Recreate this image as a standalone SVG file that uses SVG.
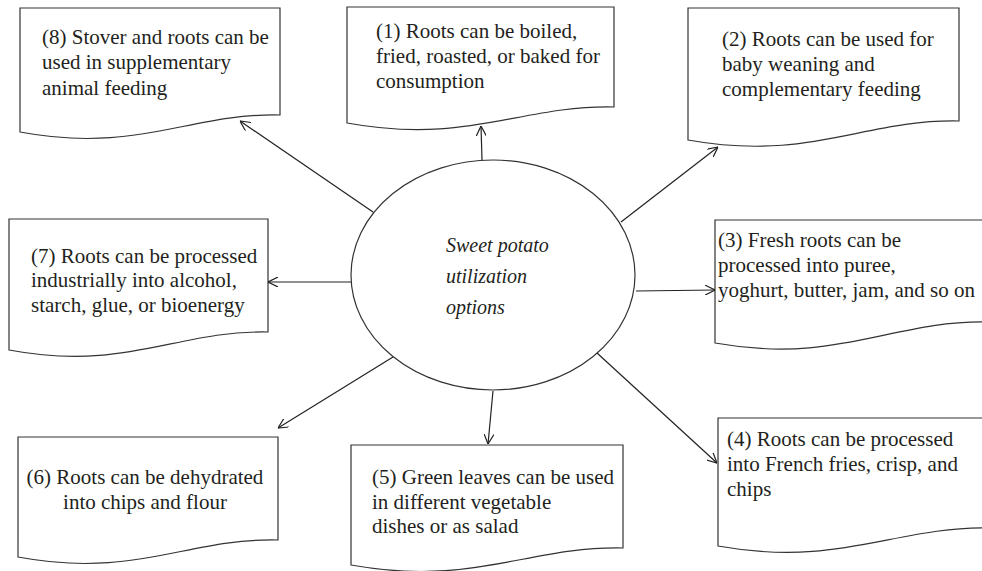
<svg xmlns="http://www.w3.org/2000/svg" width="982" height="571" viewBox="0 0 982 571">
<style>
.box{fill:#fff;stroke:#333;stroke-width:1.2}
.t{font-family:"Liberation Serif","Times New Roman",serif;font-size:21px;fill:#231f20}
.c{text-anchor:middle}
.it{font-family:"Liberation Serif","Times New Roman",serif;font-size:20px;font-style:italic;fill:#231f20}
.conn line{stroke:#222;stroke-width:1.2;marker-end:url(#arr)}
</style>
<defs>
<marker id="arr" viewBox="0 0 10 10" refX="10" refY="5" markerWidth="10" markerHeight="10" markerUnits="userSpaceOnUse" orient="auto">
<path d="M0,0 L10,5 L0,10" fill="none" stroke="#222" stroke-width="1.2"/>
</marker>
</defs>
<rect width="982" height="571" fill="#fff"/>
<g id="center">
<ellipse cx="493" cy="275" rx="142" ry="115" fill="#fff" stroke="#333" stroke-width="1.2"/>
<text class="it" x="446" y="252">Sweet potato</text>
<text class="it" x="446" y="283">utilization</text>
<text class="it" x="446" y="314">options</text>
</g>
<g id="n8">
<path class="box" d="M20,8 H280 V115 C189,113 137,154 20,132 Z"/>
<text class="t" x="42" y="44">(8) Stover and roots can be</text>
<text class="t" x="42" y="69">used in supplementary</text>
<text class="t" x="42" y="95">animal feeding</text>
</g>
<g id="n1">
<path class="box" d="M347,7 H614 V107 C520.5,105 467,145 347,123 Z"/>
<text class="t" x="376" y="38">(1) Roots can be boiled,</text>
<text class="t" x="376" y="63">fried, roasted, or baked for</text>
<text class="t" x="376" y="88">consumption</text>
</g>
<g id="n2">
<path class="box" d="M688,8 H959 V121 C864,119 810,162 688,140 Z"/>
<text class="t" x="722" y="46">(2) Roots can be used for</text>
<text class="t" x="722" y="71">baby weaning and</text>
<text class="t" x="722" y="96">complementary feeding</text>
</g>
<g id="n7">
<path class="box" d="M9,219 H268 V332 C177,330 126,372 9,350 Z"/>
<text class="t" x="31" y="263">(7) Roots can be processed</text>
<text class="t" x="31" y="287">industrially into alcohol,</text>
<text class="t" x="31" y="312">starch, glue, or bioenergy</text>
</g>
<g id="n3">
<path class="box" d="M715,220 H988 V322 C892,320 838,365 715,343 Z"/>
<text class="t" x="718" y="247">(3) Fresh roots can be</text>
<text class="t" x="718" y="272">processed into puree,</text>
<text class="t" x="718" y="297">yoghurt, butter, jam, and so on</text>
</g>
<g id="n6">
<path class="box" d="M18,437 H278 V540 C187,538 135,579 18,557 Z"/>
<text class="t c" x="145" y="484">(6) Roots can be dehydrated</text>
<text class="t c" x="145" y="509">into chips and flour</text>
</g>
<g id="n5">
<path class="box" d="M351,445 H623 V548 C528,546 473,587 351,565 Z"/>
<text class="t" x="372" y="484">(5) Green leaves can be used</text>
<text class="t" x="372" y="509">in different vegetable</text>
<text class="t" x="372" y="533">dishes or as salad</text>
</g>
<g id="n4">
<path class="box" d="M718,418 H990 V528 C895,526 840,568 718,546 Z"/>
<text class="t" x="727" y="446">(4) Roots can be processed</text>
<text class="t" x="727" y="471">into French fries, crisp, and</text>
<text class="t" x="727" y="496">chips</text>
</g>
<g id="connectors" class="conn">
<line x1="373" y1="212" x2="240" y2="121"/>
<line x1="482" y1="160" x2="481" y2="126"/>
<line x1="621" y1="222" x2="718" y2="147"/>
<line x1="636" y1="291" x2="715" y2="290"/>
<line x1="597" y1="353" x2="717" y2="463"/>
<line x1="493" y1="391" x2="488" y2="444"/>
<line x1="393" y1="357" x2="278" y2="428"/>
<line x1="351" y1="282" x2="268" y2="282"/>
</g>
</svg>
